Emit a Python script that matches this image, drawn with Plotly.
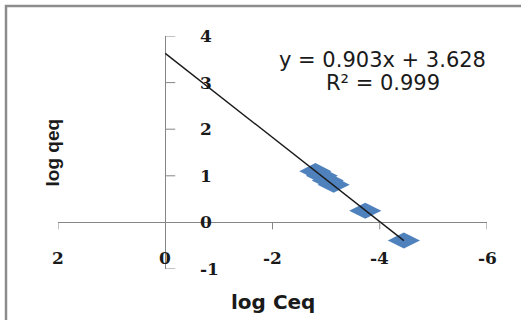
import plotly.graph_objects as go

# data
log_ceq = [-2.80, -2.92, -3.03, -3.14, -3.73, -4.45]
log_qeq = [1.10, 1.00, 0.90, 0.81, 0.25, -0.39]

slope = 0.903
intercept = 3.628
trend_x = [0.0, -4.45]
trend_y = [slope * v + intercept for v in trend_x]

x_ticks = [2, 0, -2, -4, -6]
x_tick_labels = ["2", "0", "-2", "-4", "-6"]
y_ticks = [-1, 0, 1, 2, 3, 4]
y_tick_labels = ["-1", "0", "1", "2", "3", "4"]

eq_text = "y = 0.903x + 3.628"
r2_text = "R² = 0.999"

axis_col = "#868686"
tick_font = dict(family="DejaVu Serif", size=17, color="#1a1a1a", weight="bold")

fig = go.Figure()
fig.add_trace(go.Scatter(
    x=log_ceq, y=log_qeq, mode="markers",
    marker=dict(symbol="diamond-wide", size=23, color="#4F81BD", line=dict(width=0)),
    showlegend=False, hoverinfo="skip",
))
fig.add_trace(go.Scatter(
    x=trend_x, y=trend_y, mode="lines",
    line=dict(color="#1a1a1a", width=1.4),
    showlegend=False, hoverinfo="skip",
))

shapes = []
for v in x_ticks:
    if v == 0:
        continue
    shapes.append(dict(type="line", xref="x", yref="y", ysizemode="pixel", yanchor=0,
                       x0=v, x1=v, y0=0, y1=-7, line=dict(color=axis_col, width=1)))
for v in y_ticks:
    if v == 0:
        continue
    shapes.append(dict(type="line", xref="x", yref="y", xsizemode="pixel", xanchor=0,
                       x0=0, x1=10, y0=v, y1=v, line=dict(color=axis_col, width=1)))
# outer chart border
shapes.append(dict(type="rect", xref="paper", yref="paper",
                   x0=(6 - 58) / 429, x1=(530 - 58) / 429,
                   y0=(269 - 330) / 233, y1=(269 - 6) / 233,
                   line=dict(color="#8c8c8c", width=2.5), layer="below"))

annotations = []
for v, t in zip(x_ticks, x_tick_labels):
    annotations.append(dict(x=v, y=0, xref="x", yref="y", text=t, showarrow=False,
                            xanchor="center", yanchor="middle", yshift=-36, font=tick_font))
for v, t in zip(y_ticks, y_tick_labels):
    annotations.append(dict(x=0, y=v, xref="x", yref="y", text=t, showarrow=False,
                            xanchor="left", yanchor="middle", xshift=33, font=tick_font))

annotations.append(dict(x=0.5, y=(269 - 302) / 233, xref="paper", yref="paper", text="log Ceq",
                        showarrow=False, xanchor="center", yanchor="middle",
                        font=dict(family="DejaVu Sans", size=20, color="#1a1a1a", weight="bold")))
annotations.append(dict(x=(52 - 58) / 429, y=0.5, xref="paper", yref="paper", text="log qeq",
                        showarrow=False, xanchor="center", yanchor="middle", textangle=-90,
                        font=dict(family="Liberation Sans", size=19, color="#1a1a1a", weight="bold")))
annotations.append(dict(x=(382.5 - 58) / 429, y=(269 - 60) / 233, xref="paper", yref="paper",
                        text=eq_text, showarrow=False, xanchor="center", yanchor="middle",
                        font=dict(family="DejaVu Sans", size=21, color="#1a1a1a")))
annotations.append(dict(x=(382.5 - 58) / 429, y=(269 - 83) / 233, xref="paper", yref="paper",
                        text=r2_text, showarrow=False, xanchor="center", yanchor="middle",
                        font=dict(family="DejaVu Sans", size=21, color="#1a1a1a")))

fig.update_layout(
    width=521, height=320,
    margin=dict(l=58, r=34, t=36, b=51),
    paper_bgcolor="white", plot_bgcolor="white",
    xaxis=dict(range=[2, -6], showgrid=False, showticklabels=False, ticks="",
               zeroline=True, zerolinecolor=axis_col, zerolinewidth=1, showline=False),
    yaxis=dict(range=[-1, 4], showgrid=False, showticklabels=False, ticks="",
               zeroline=True, zerolinecolor=axis_col, zerolinewidth=1, showline=False),
    shapes=shapes, annotations=annotations,
)

fig.write_html("out.html")
